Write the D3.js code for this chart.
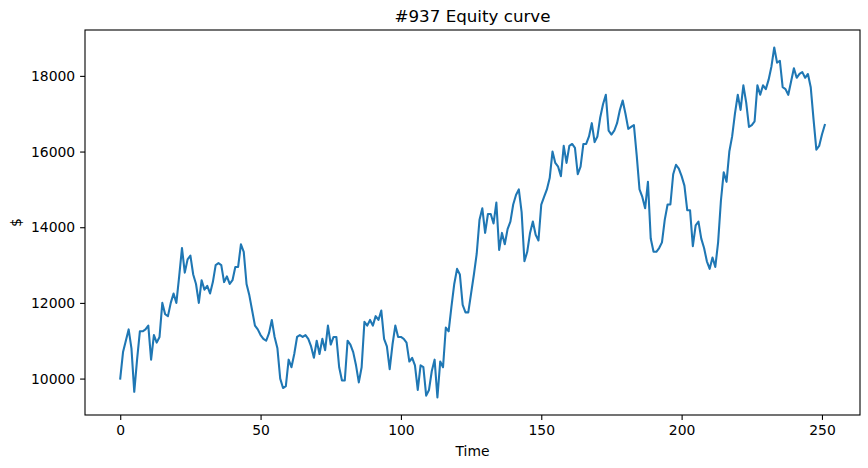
<!DOCTYPE html>
<html><head><meta charset="utf-8">
<script src="https://cdn.jsdelivr.net/npm/d3@7"></script>
<style>body{margin:0;background:#fff}svg{display:block}text{font-family:"DejaVu Sans",sans-serif}</style>
</head><body><svg id="c" width="868" height="468"></svg>
<script>
const title = "#937 Equity curve";
const xLabel = "Time";
const yLabel = "$";
const xTicks = [0, 50, 100, 150, 200, 250];
const yTicks = [10000, 12000, 14000, 16000, 18000];
const equity = [
10000,10700,11000,11300,10800,9650,10500,11250,11250,11300,
11400,10500,11150,10950,11100,12000,11700,11650,12000,12250,
12000,12700,13450,12800,13150,13250,12750,12500,12000,12600,
12350,12450,12250,12550,13000,13050,13000,12550,12700,12500,
12600,12950,12950,13550,13350,12500,12200,11800,11400,11300,
11150,11050,11000,11200,11550,11100,10800,10000,9750,9800,
10500,10300,10650,11100,11150,11100,11150,11050,10850,10550,
11000,10650,11050,10750,11400,10900,11100,11100,10300,9950,
9950,11000,10900,10700,10350,9900,10300,11500,11400,11550,
11400,11650,11550,11800,11050,10850,10250,10900,11400,11100,
11100,11050,10950,10450,10550,10350,9700,10350,10300,9550,
9700,10200,10500,9500,10450,10300,11350,11250,11900,12500,
12900,12750,11950,11750,11750,12250,12750,13300,14200,14500,
13850,14350,14350,14100,14650,13400,13850,13550,13950,14150,
14600,14850,15000,14400,13100,13350,13850,14150,13800,13650,
14600,14800,15000,15300,16000,15700,15600,15350,16150,15700,
16150,16200,16100,15400,15600,16200,16200,16400,16750,16250,
16400,16900,17250,17500,16550,16450,16550,16750,17100,17350,
17000,16600,16650,16700,15900,15000,14800,14500,15200,13700,
13350,13350,13450,13600,14200,14600,14600,15400,15650,15550,
15350,15100,14450,14450,13500,14050,14150,13700,13450,13100,
12900,13200,12950,13600,14700,15450,15200,16000,16400,17000,
17500,17100,17750,17300,16650,16700,16800,17750,17500,17750,
17650,17900,18250,18750,18350,18400,17700,17650,17500,17850,
18200,17950,18050,18100,17950,18050,17700,16850,16050,16150,
16450,16700
];

const svg = d3.select("#c");
const L = 85, T = 30, W = 775, H = 385;
const n = equity.length;
const xpad = (n - 1) * 0.05;
const ymin = d3.min(equity), ymax = d3.max(equity), yr = ymax - ymin;
const x = d3.scaleLinear().domain([-xpad, n - 1 + xpad]).range([L, L + W]);
const y = d3.scaleLinear().domain([ymin - 0.05 * yr, ymax + 0.05 * yr]).range([T + H, T]);

const line = d3.line().x((d, i) => x(i)).y(d => y(d));
svg.append("path").datum(equity).attr("d", line)
  .attr("fill", "none").attr("stroke", "#1f77b4").attr("stroke-width", 2.08)
  .attr("stroke-linejoin", "round").attr("stroke-linecap", "square");

const xa = svg.append("g").attr("transform", `translate(0,${T + H})`)
  .call(d3.axisBottom(x).tickValues(xTicks).tickSize(4.9).tickPadding(4.9).tickFormat(d3.format("d")));
const ya = svg.append("g").attr("transform", `translate(${L},0)`)
  .call(d3.axisLeft(y).tickValues(yTicks).tickSize(4.9).tickPadding(4.9).tickFormat(d3.format("d")));
[xa, ya].forEach(g => {
  g.select(".domain").remove();
  g.selectAll(".tick line").attr("stroke", "#000").attr("stroke-width", 1.1);
  g.selectAll(".tick text").attr("fill", "#000").style("font-size", "13.9px").style("font-family", "DejaVu Sans");
});

svg.append("rect").attr("x", L).attr("y", T).attr("width", W).attr("height", H)
  .attr("fill", "none").attr("stroke", "#000").attr("stroke-width", 1.1);

svg.append("text").attr("x", L + W / 2).attr("y", T - 8.5).attr("text-anchor", "middle")
  .style("font-size", "16.7px").text(title);
svg.append("text").attr("x", L + W / 2).attr("y", 456).attr("text-anchor", "middle")
  .style("font-size", "13.9px").text(xLabel);
svg.append("text").attr("transform", `translate(21,${T + H / 2}) rotate(-90)`).attr("text-anchor", "middle")
  .style("font-size", "13.9px").text(yLabel);
</script></body></html>
